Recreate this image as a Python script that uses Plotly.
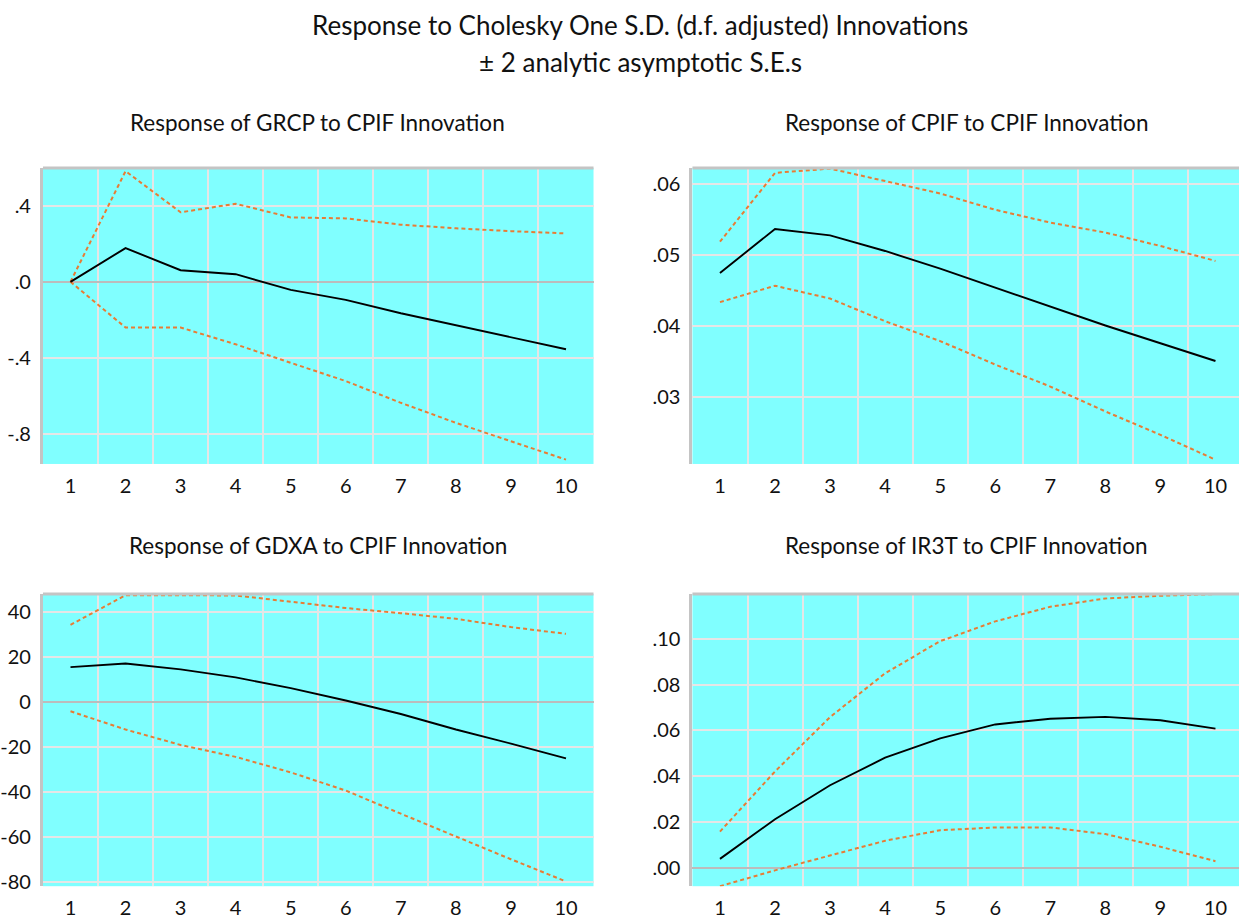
import plotly.graph_objects as go

periods = [1, 2, 3, 4, 5, 6, 7, 8, 9, 10]

grcp_resp = [0.0, 0.177, 0.061, 0.040, -0.042, -0.095, -0.165, -0.228, -0.289, -0.354]
grcp_up = [0.0, 0.581, 0.365, 0.410, 0.338, 0.333, 0.300, 0.281, 0.266, 0.254]
grcp_lo = [0.0, -0.240, -0.240, -0.328, -0.425, -0.521, -0.635, -0.740, -0.837, -0.933]

cpif_resp = [0.0474, 0.0536, 0.0527, 0.0505, 0.0480, 0.0453, 0.0427, 0.0400, 0.0375, 0.0350]
cpif_up = [0.0518, 0.0615, 0.0621, 0.0603, 0.0586, 0.0563, 0.0545, 0.0531, 0.0512, 0.0491]
cpif_lo = [0.0433, 0.0456, 0.0438, 0.0406, 0.0378, 0.0345, 0.0314, 0.0279, 0.0246, 0.0211]

gdxa_resp = [15.6, 17.2, 14.6, 11.0, 6.2, 0.7, -5.3, -12.2, -18.5, -25.1]
gdxa_up = [34.4, 47.6, 47.6, 47.5, 44.7, 41.9, 39.6, 37.1, 33.4, 30.4]
gdxa_lo = [-4.1, -12.2, -19.1, -24.4, -31.3, -39.4, -49.7, -60.0, -70.0, -79.9]

ir3t_resp = [0.0040, 0.0213, 0.0361, 0.0481, 0.0565, 0.0626, 0.0651, 0.0659, 0.0644, 0.0608]
ir3t_up = [0.0159, 0.0421, 0.0658, 0.0849, 0.0989, 0.1075, 0.1139, 0.1175, 0.1187, 0.1194]
ir3t_lo = [-0.0079, -0.0010, 0.0055, 0.0119, 0.0165, 0.0177, 0.0177, 0.0148, 0.0093, 0.0030]

titles = ["Response of GRCP to CPIF Innovation", "Response of CPIF to CPIF Innovation",
          "Response of GDXA to CPIF Innovation", "Response of IR3T to CPIF Innovation"]

ytick_vals = [[0.4, 0.0, -0.4, -0.8], [0.06, 0.05, 0.04, 0.03],
              [40, 20, 0, -20, -40, -60, -80], [0.10, 0.08, 0.06, 0.04, 0.02, 0.00]]
ytick_text = [[".4", ".0", "-.4", "-.8"], [".06", ".05", ".04", ".03"],
              ["40", "20", "0", "-20", "-40", "-60", "-80"], [".10", ".08", ".06", ".04", ".02", ".00"]]
yranges = [[-0.956, 0.598], [0.0205, 0.0622], [-82, 48.1], [-0.0079, 0.1194]]
has_zero = [True, False, True, True]

W, H = 1239, 922
# left, right, top, bottom in pixels (right panels run slightly past the page edge)
panels_px = [(42, 593, 169, 467), (692, 1243, 169, 467), (42, 593, 598, 892), (692, 1243, 598, 892)]
title_px = [(317, 123), (966, 123), (317, 549), (966, 549)]

data = [(grcp_resp, grcp_up, grcp_lo), (cpif_resp, cpif_up, cpif_lo),
        (gdxa_resp, gdxa_up, gdxa_lo), (ir3t_resp, ir3t_up, ir3t_lo)]

FONT = "Lato"
CYAN = "#80FFFF"
GRID = "#e6e6e6"
ORANGE = "#e87c34"
TXT = "#111111"

fig = go.Figure()
layout = dict(width=W, height=H, margin=dict(l=0, r=0, t=0, b=0),
              paper_bgcolor="white", plot_bgcolor=CYAN, showlegend=False,
              font=dict(family=FONT, color=TXT, size=20))
shapes = []
annotations = []

for i, (resp, up, lo) in enumerate(data):
    n = i + 1
    xa = "x" if n == 1 else f"x{n}"
    ya = "y" if n == 1 else f"y{n}"
    xkey = "xaxis" if n == 1 else f"xaxis{n}"
    ykey = "yaxis" if n == 1 else f"yaxis{n}"
    x0, x1, y0, y1 = panels_px[i]
    px_per = (x1 - x0) / 10.0
    xr_end = min(x1, W)
    xmax = 0.5 + (xr_end - x0) / px_per
    for series, color, dash, w in [(up, ORANGE, "4px,3px", 2), (lo, ORANGE, "4px,3px", 2),
                                   (resp, "black", "solid", 1.9)]:
        fig.add_trace(go.Scatter(x=periods, y=series, mode="lines", xaxis=xa, yaxis=ya,
                                 line=dict(color=color, width=w, dash=dash), hoverinfo="skip"))
    layout[xkey] = dict(domain=[x0 / W, xr_end / W], anchor=ya, range=[0.5, xmax],
                        tickmode="array", tickvals=periods, ticktext=[str(p) for p in periods],
                        showgrid=False, zeroline=False, showline=False, ticks="",
                        ticklabelstandoff=8,
                        tickfont=dict(size=20, family=FONT, color=TXT),
                        minor=dict(tick0=0.5, dtick=1, showgrid=True, gridcolor=GRID, gridwidth=2))
    layout[ykey] = dict(domain=[1 - y1 / H, 1 - y0 / H], anchor=xa, range=yranges[i],
                        tickmode="array", tickvals=ytick_vals[i], ticktext=ytick_text[i],
                        showgrid=True, gridcolor=GRID, gridwidth=2,
                        zeroline=has_zero[i], zerolinecolor="#bcbcbc", zerolinewidth=2,
                        showline=True, linecolor="#c4c4c4", linewidth=3, ticks="",
                        ticklabelstandoff=5,
                        tickfont=dict(size=20, family=FONT, color=TXT))
    shapes.append(dict(type="line", xref=f"{xa} domain", yref=f"{ya} domain",
                       x0=0, x1=1, y0=1, y1=1, line=dict(color="#c4c4c4", width=3)))
    tx, ty = title_px[i]
    annotations.append(dict(text=titles[i], x=tx / W, y=1 - ty / H, xref="paper", yref="paper",
                            showarrow=False, xanchor="center", yanchor="middle",
                            font=dict(size=22.5, family=FONT, color=TXT)))

annotations.append(dict(text="Response to Cholesky One S.D. (d.f. adjusted) Innovations",
                        x=640 / W, y=1 - 25 / H, xref="paper", yref="paper", showarrow=False,
                        xanchor="center", yanchor="middle", font=dict(size=26, family=FONT, color=TXT)))
annotations.append(dict(text="± 2 analytic asymptotic S.E.s",
                        x=640 / W, y=1 - 62 / H, xref="paper", yref="paper", showarrow=False,
                        xanchor="center", yanchor="middle", font=dict(size=26, family=FONT, color=TXT)))

layout["shapes"] = shapes
layout["annotations"] = annotations
fig.update_layout(**layout)
fig.write_html("out.html")
